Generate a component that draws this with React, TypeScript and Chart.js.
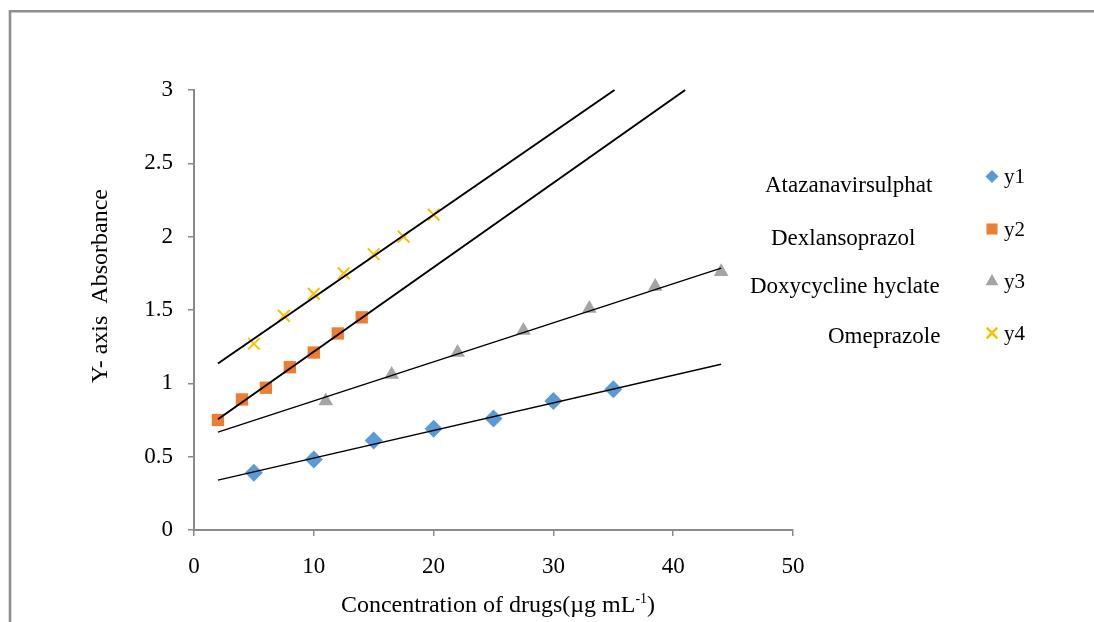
import React, { useEffect, useRef } from 'react';
import { Chart, registerables } from 'chart.js';
import { drawPoint } from 'chart.js/helpers';

Chart.register(...registerables);

// ---- data ----
const xAtazanavir = [5, 10, 15, 20, 25, 30, 35];
const yAtazanavir = [0.39, 0.48, 0.61, 0.69, 0.76, 0.88, 0.96];
const xDexlansoprazol = [2, 4, 6, 8, 10, 12, 14];
const yDexlansoprazol = [0.75, 0.89, 0.97, 1.11, 1.21, 1.34, 1.45];
const xDoxycycline = [11, 16.5, 22, 27.5, 33, 38.5, 44];
const yDoxycycline = [0.88, 1.06, 1.21, 1.36, 1.51, 1.66, 1.76];
const xOmeprazole = [5, 7.5, 10, 12.5, 15, 17.5, 20];
const yOmeprazole = [1.27, 1.46, 1.61, 1.75, 1.88, 2.0, 2.15];

// trend line end points
const trendX1 = [2, 44];
const trendY1 = [0.34, 1.13];
const trendX2 = [2, 41];
const trendY2 = [0.755, 3];
const trendX3 = [2, 44];
const trendY3 = [0.667, 1.785];
const trendX4 = [2, 35.1];
const trendY4 = [1.135, 3];

const seriesNames = ['y1', 'y2', 'y3', 'y4'];
const drugNames = ['Atazanavirsulphat', 'Dexlansoprazol', 'Doxycycline hyclate', 'Omeprazole'];
const xTicks = [0, 10, 20, 30, 40, 50];
const yTicks = [0, 0.5, 1, 1.5, 2, 2.5, 3];
const xTitle = 'Concentration of drugs(\u00b5g mL';
const xTitleSup = '-1';
const xTitleEnd = ')';
const yTitle = 'Y- axis  Absorbance';

// ---- styles ----
const COLORS = ['#5B9BD5', '#ED7D31', '#A5A5A5', '#FFC000'];
const STYLES = ['rectRot', 'rect', 'triangle', 'crossRot'];
const RADII = [9, 8.7, 8.5, 8.3];
const LEGEND_RADII = [6.5, 7.8, 7.5, 7.5];
const AXIS_COLOR = '#898989';
const SERIF = '"Liberation Serif", "Times New Roman", serif';

const zip = (xs: number[], ys: number[]) => xs.map((x, i) => ({ x, y: ys[i] }));

const overlayPlugin = {
  id: 'overlay',
  afterDraw(chart: any) {
    const ctx = chart.ctx as CanvasRenderingContext2D;
    ctx.save();
    // outer frame (only top and left visible)
    ctx.strokeStyle = '#8f8f8f';
    ctx.lineWidth = 2.6;
    ctx.beginPath();
    ctx.moveTo(10, 700);
    ctx.lineTo(10, 11.3);
    ctx.lineTo(1200, 11.3);
    ctx.stroke();

    // legend markers + series labels
    const legendY = [176.5, 229, 281.5, 333];
    for (let i = 0; i < 4; i++) {
      ctx.fillStyle = COLORS[i];
      ctx.strokeStyle = COLORS[i];
      const isCross = STYLES[i] === 'crossRot';
      drawPoint(ctx, {
        pointStyle: STYLES[i],
        radius: LEGEND_RADII[i],
        rotation: 0,
        borderWidth: isCross ? 2 : 0,
      } as any, 992, legendY[i]);
      ctx.fillStyle = '#000';
      ctx.font = `21px ${SERIF}`;
      ctx.textAlign = 'left';
      ctx.textBaseline = 'middle';
      ctx.fillText(seriesNames[i], 1004, legendY[i] + 1);
    }

    // drug names text boxes
    const nameX = [765, 771, 750, 828];
    const nameBase = [191.5, 245, 293, 343];
    ctx.font = `23px ${SERIF}`;
    ctx.textAlign = 'left';
    ctx.textBaseline = 'alphabetic';
    ctx.fillStyle = '#000';
    for (let i = 0; i < 4; i++) {
      ctx.fillText(drugNames[i], nameX[i], nameBase[i]);
    }

    // x axis title with superscript
    ctx.font = `24px ${SERIF}`;
    const w1 = ctx.measureText(xTitle).width;
    ctx.font = `14px ${SERIF}`;
    const w2 = ctx.measureText(xTitleSup).width;
    ctx.font = `24px ${SERIF}`;
    const w3 = ctx.measureText(xTitleEnd).width;
    const total = w1 + w2 + w3;
    let tx = 498 - total / 2;
    const baseY = 611.5;
    ctx.fillText(xTitle, tx, baseY);
    tx += w1;
    ctx.font = `14px ${SERIF}`;
    ctx.fillText(xTitleSup, tx, baseY - 9);
    tx += w2;
    ctx.font = `24px ${SERIF}`;
    ctx.fillText(xTitleEnd, tx, baseY);

    // y axis title
    ctx.translate(106.5, 286);
    ctx.rotate(-Math.PI / 2);
    ctx.textAlign = 'center';
    ctx.font = `24px ${SERIF}`;
    ctx.fillText(yTitle, 0, 0);
    ctx.restore();
  },
};

export default function App() {
  const canvasRef = useRef<HTMLCanvasElement | null>(null);

  useEffect(() => {
    if (!canvasRef.current) return;
    const pointSets = [
      zip(xAtazanavir, yAtazanavir),
      zip(xDexlansoprazol, yDexlansoprazol),
      zip(xDoxycycline, yDoxycycline),
      zip(xOmeprazole, yOmeprazole),
    ];
    const trendSets = [
      zip(trendX1, trendY1),
      zip(trendX2, trendY2),
      zip(trendX3, trendY3),
      zip(trendX4, trendY4),
    ];
    const trendWidths = [1.4, 2, 1.4, 2];

    const datasets: any[] = [];
    trendSets.forEach((d, i) => {
      datasets.push({
        label: 'trend ' + seriesNames[i],
        data: d,
        showLine: true,
        borderColor: '#000',
        borderWidth: trendWidths[i],
        pointRadius: 0,
        order: 0,
        clip: false,
      });
    });
    pointSets.forEach((d, i) => {
      const isCross = STYLES[i] === 'crossRot';
      datasets.push({
        label: seriesNames[i],
        data: d,
        showLine: false,
        pointStyle: STYLES[i],
        pointRadius: RADII[i],
        pointBackgroundColor: COLORS[i],
        pointBorderColor: COLORS[i],
        pointBorderWidth: isCross ? 2 : 0,
        order: 1,
      });
    });

    const tickFont = { family: SERIF, size: 23 };

    const chart = new Chart(canvasRef.current, {
      type: 'scatter',
      data: { datasets },
      options: {
        responsive: false,
        animation: false,
        events: [],
        layout: { padding: { left: 0, top: 90, right: 301, bottom: 0 } },
        plugins: {
          legend: { display: false },
          tooltip: { enabled: false },
          title: { display: false },
        },
        scales: {
          x: {
            type: 'linear',
            min: 0,
            max: 50,
            afterBuildTicks: (scale: any) => {
              scale.ticks = xTicks.map((v) => ({ value: v }));
            },
            afterFit: (scale: any) => {
              scale.height = 92;
            },
            ticks: {
              font: tickFont,
              color: '#000',
              padding: 17,
              maxRotation: 0,
              autoSkip: false,
              callback: (v: any) => String(v),
            },
            grid: {
              drawOnChartArea: false,
              drawTicks: true,
              tickLength: 6,
              color: AXIS_COLOR,
              lineWidth: 1.5,
            },
            border: { display: true, color: AXIS_COLOR, width: 2 },
          },
          y: {
            type: 'linear',
            min: 0,
            max: 3,
            afterBuildTicks: (scale: any) => {
              scale.ticks = yTicks.map((v) => ({ value: v }));
            },
            afterFit: (scale: any) => {
              scale.width = 194;
            },
            ticks: {
              font: tickFont,
              color: '#000',
              padding: 15,
              autoSkip: false,
              callback: (v: any) => String(v),
            },
            grid: {
              drawOnChartArea: false,
              drawTicks: true,
              tickLength: 6,
              color: AXIS_COLOR,
              lineWidth: 1.5,
            },
            border: { display: true, color: AXIS_COLOR, width: 2 },
          },
        },
      },
      plugins: [overlayPlugin],
    });
    return () => chart.destroy();
  }, []);

  return (
    <div style={{ position: 'absolute', left: 0, top: 0, width: 1094, height: 622, background: '#fff' }}>
      <canvas ref={canvasRef} width={1094} height={622} style={{ display: 'block' }} />
    </div>
  );
}
